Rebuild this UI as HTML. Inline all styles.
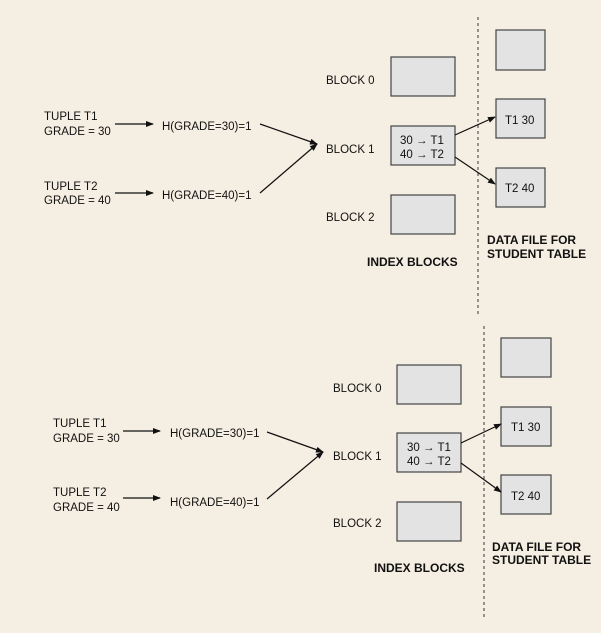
<!DOCTYPE html>
<html><head><meta charset="utf-8"><style>
html,body{margin:0;padding:0;background:#f5eee2;}
svg{display:block;}
text{font-family:"Liberation Sans",Arial,sans-serif;font-size:11.5px;fill:#111;}
.b{font-weight:bold;font-size:12px;}
rect.bx{fill:#e3e3e3;stroke:#444;stroke-width:1.2;}
line{stroke:#111;stroke-width:1.2;}
.d{stroke:#555;stroke-width:1.2;stroke-dasharray:3,3;}
</style></head><body>
<svg width="601" height="633" viewBox="0 0 601 633">
<defs><marker id="a" markerWidth="8" markerHeight="8" refX="7" refY="4" orient="auto" markerUnits="userSpaceOnUse"><path d="M0,1 L8,4 L0,7 z" fill="#111"/></marker></defs>
<rect width="601" height="633" fill="#f5eee2"/>
<!-- TOP -->
<line class="d" x1="478" y1="17" x2="478" y2="315"/>
<rect class="bx" x="391" y="57" width="64" height="39"/>
<rect class="bx" x="391" y="126" width="64" height="39"/>
<rect class="bx" x="391" y="195" width="64" height="39"/>
<rect class="bx" x="496" y="30" width="49" height="40"/>
<rect class="bx" x="496" y="99" width="49" height="39"/>
<rect class="bx" x="496" y="168" width="49" height="39"/>
<text x="326" y="84">BLOCK 0</text>
<text x="326" y="153">BLOCK 1</text>
<text x="326" y="221">BLOCK 2</text>
<text x="400" y="144">30 → T1</text>
<text x="400" y="158">40 → T2</text>
<text x="505" y="124">T1 30</text>
<text x="505" y="192">T2 40</text>
<text x="44" y="120">TUPLE T1</text>
<text x="44" y="135">GRADE = 30</text>
<text x="44" y="190">TUPLE T2</text>
<text x="44" y="204">GRADE = 40</text>
<text x="162" y="130">H(GRADE=30)=1</text>
<text x="162" y="199">H(GRADE=40)=1</text>
<line x1="115" y1="124" x2="153" y2="124" marker-end="url(#a)"/>
<line x1="115" y1="193" x2="153" y2="193" marker-end="url(#a)"/>
<line x1="260" y1="124" x2="317" y2="144" marker-end="url(#a)"/>
<line x1="260" y1="193" x2="317" y2="144" marker-end="url(#a)"/>
<line x1="455" y1="135" x2="495" y2="117" marker-end="url(#a)"/>
<line x1="455" y1="157" x2="495" y2="184" marker-end="url(#a)"/>
<text class="b" x="367" y="266">INDEX BLOCKS</text>
<text class="b" x="487" y="244">DATA FILE FOR</text>
<text class="b" x="487" y="258">STUDENT TABLE</text>
<!-- BOTTOM -->
<line class="d" x1="484" y1="326" x2="484" y2="618"/>
<rect class="bx" x="397" y="365" width="64" height="39"/>
<rect class="bx" x="397" y="433" width="64" height="39"/>
<rect class="bx" x="397" y="502" width="64" height="39"/>
<rect class="bx" x="501" y="338" width="50" height="39"/>
<rect class="bx" x="501" y="407" width="50" height="39"/>
<rect class="bx" x="501" y="475" width="50" height="39"/>
<text x="333" y="392">BLOCK 0</text>
<text x="333" y="460">BLOCK 1</text>
<text x="333" y="527">BLOCK 2</text>
<text x="407" y="451">30 → T1</text>
<text x="407" y="465">40 → T2</text>
<text x="511" y="431">T1 30</text>
<text x="511" y="500">T2 40</text>
<text x="53" y="427">TUPLE T1</text>
<text x="53" y="442">GRADE = 30</text>
<text x="53" y="496">TUPLE T2</text>
<text x="53" y="511">GRADE = 40</text>
<text x="170" y="437">H(GRADE=30)=1</text>
<text x="170" y="506">H(GRADE=40)=1</text>
<line x1="123" y1="431" x2="160" y2="431" marker-end="url(#a)"/>
<line x1="123" y1="498" x2="160" y2="498" marker-end="url(#a)"/>
<line x1="267" y1="432" x2="323" y2="452" marker-end="url(#a)"/>
<line x1="267" y1="499" x2="323" y2="452" marker-end="url(#a)"/>
<line x1="461" y1="443" x2="501" y2="424" marker-end="url(#a)"/>
<line x1="461" y1="463" x2="501" y2="492" marker-end="url(#a)"/>
<text class="b" x="374" y="572">INDEX BLOCKS</text>
<text class="b" x="492" y="551">DATA FILE FOR</text>
<text class="b" x="492" y="564">STUDENT TABLE</text>
</svg>
</body></html>
